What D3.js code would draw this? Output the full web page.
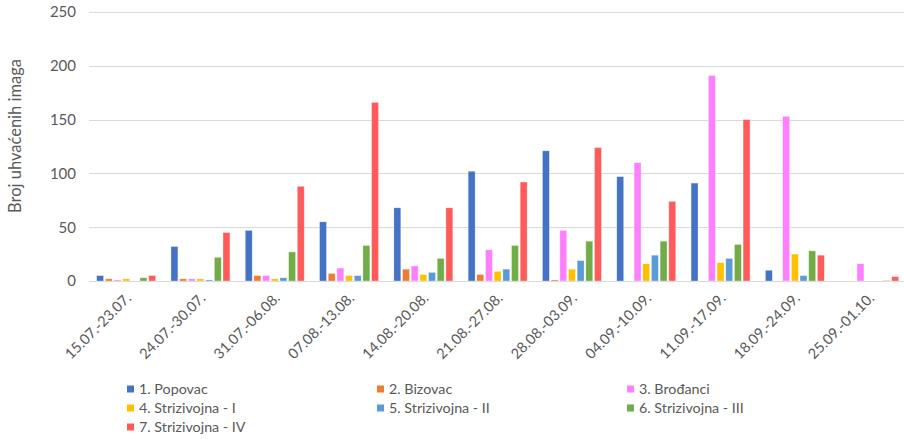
<!DOCTYPE html>
<html>
<head>
<meta charset="utf-8">
<script src="https://cdn.jsdelivr.net/npm/d3@7"></script>
<style>
  html, body { margin: 0; padding: 0; background: #fff; }
  svg { display: block; }
  text { font-family: Lato, "Open Sans", sans-serif; fill: #595959; }
</style>
</head>
<body>
<svg id="chart" width="904" height="439"></svg>
<script>
const categories = ["15.07.-23.07.", "24.07.-30.07.", "31.07.-06.08.", "07.08.-13.08.", "14.08.-20.08.",
  "21.08.-27.08.", "28.08.-03.09.", "04.09.-10.09.", "11.09.-17.09.", "18.09.-24.09.", "25.09.-01.10."];

const seriesNames = ["1. Popovac", "2. Bizovac", "3. Brođanci", "4. Strizivojna - I",
  "5. Strizivojna - II", "6. Strizivojna - III", "7. Strizivojna - IV"];

const popovac      = [5, 32, 47, 55, 68, 102, 121, 97, 91, 10, 0];
const bizovac      = [2, 2, 5, 7, 11, 6, 1, 0, 0, 0, 0];
const brodanci     = [1, 2, 5, 12, 14, 29, 47, 110, 191, 153, 16];
const strizivojna1 = [2, 2, 2, 5, 6, 9, 11, 16, 17, 25, 0];
const strizivojna2 = [0, 1, 3, 5, 8, 11, 19, 24, 21, 5, 0];
const strizivojna3 = [3, 22, 27, 33, 21, 33, 37, 37, 34, 28, 0.5];
const strizivojna4 = [5, 45, 88, 166, 68, 92, 124, 74, 150, 24, 4];

const seriesValues = [popovac, bizovac, brodanci, strizivojna1, strizivojna2, strizivojna3, strizivojna4];
const colors = ["#4472C4", "#ED7D31", "#FF80FF", "#FFC000", "#5B9BD5", "#70AD47", "#FF5B5B"];
const yTicks = [0, 50, 100, 150, 200, 250];

const svg = d3.select("#chart");
const plotLeft = 89, plotRight = 904, groupStep = 74.3;

const x0 = d3.scaleBand().domain(categories)
  .range([plotLeft, plotLeft + groupStep * categories.length]).padding(0);
const groupSpan = 60.7;
const x1 = d3.scaleBand().domain(d3.range(seriesNames.length))
  .range([0, groupSpan]).paddingInner(0.2).paddingOuter(0.1);
const groupOffset = (x0.bandwidth() - groupSpan) / 2;

const y = d3.scaleLinear().domain([0, 250]).range([281, 12]);

// gridlines
svg.append("g").selectAll("line").data(yTicks).join("line")
  .attr("x1", plotLeft).attr("x2", plotRight)
  .attr("y1", d => Math.round(y(d)) + 0.5).attr("y2", d => Math.round(y(d)) + 0.5)
  .attr("stroke", "#d9d9d9").attr("stroke-width", 1);

// y axis labels
const yAxis = d3.axisLeft(y).tickValues(yTicks).tickSize(0).tickPadding(0);
const yg = svg.append("g").attr("transform", "translate(76,0)").call(yAxis);
yg.select(".domain").remove();
yg.selectAll("text").style("font-size", "15px").attr("fill", "#595959")
  .style("font-family", "Lato, 'Open Sans', sans-serif");

// y title
svg.append("text")
  .attr("transform", "translate(21,136) rotate(-90)")
  .attr("text-anchor", "middle")
  .style("font-size", "16.5px")
  .text("Broj uhvaćenih imaga");

// bars
const groups = svg.append("g").selectAll("g").data(categories).join("g")
  .attr("transform", d => `translate(${x0(d) + groupOffset},0)`);

groups.selectAll("rect")
  .data((d, i) => seriesValues.map((vals, s) => ({ s, v: vals[i] })))
  .join("rect")
  .attr("x", d => x1(d.s))
  .attr("width", x1.bandwidth())
  .attr("y", d => y(d.v))
  .attr("height", d => y(0) - y(d.v))
  .attr("fill", d => colors[d.s])
  .attr("stroke", "#fff").attr("stroke-opacity", 0.5).attr("stroke-width", 0.6);

// x labels
const xAxis = d3.axisBottom(x0).tickSize(0).tickPadding(0);
const xg = svg.append("g").attr("transform", "translate(0,281)").call(xAxis);
xg.select(".domain").remove();
xg.selectAll("text")
  .style("font-size", "14.5px")
  .style("font-family", "Lato, 'Open Sans', sans-serif")
  .attr("fill", "#595959")
  .attr("text-anchor", "end")
  .attr("dy", null)
  .attr("y", 0)
  .attr("transform", "translate(6,18) rotate(-45)");

// legend
const legendCols = [127, 377, 627];
const legendRows = [389, 408, 427];
const legend = svg.append("g").selectAll("g").data(seriesNames).join("g")
  .attr("transform", (d, i) => `translate(${legendCols[i % 3]},${legendRows[Math.floor(i / 3)]})`);
legend.append("rect").attr("x", 0).attr("y", -3.5).attr("width", 7).attr("height", 7)
  .attr("fill", (d, i) => colors[i]);
legend.append("text").attr("x", 12).attr("y", 0).attr("dy", "0.35em")
  .style("font-size", "14.3px").text(d => d);
</script>
</body>
</html>
